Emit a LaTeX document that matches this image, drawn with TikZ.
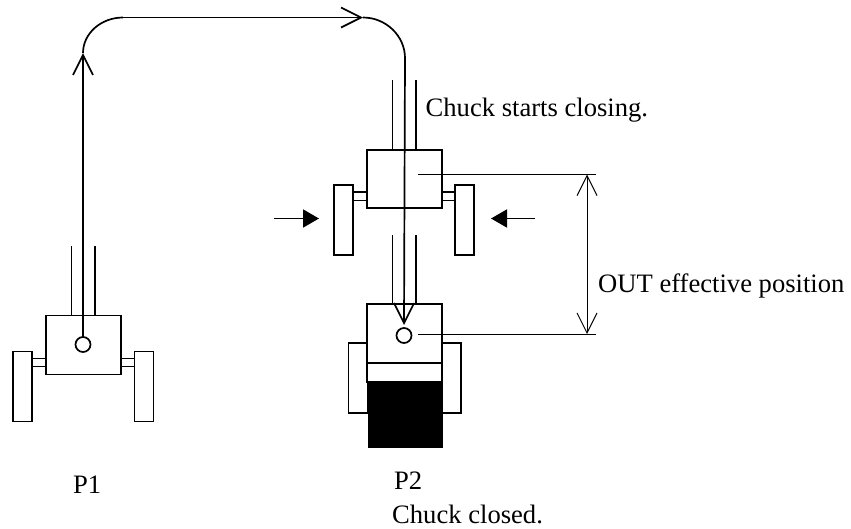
\documentclass[tikz,border=0pt]{standalone}
\usepackage{fontspec}
\setmainfont{Liberation Serif}
\usetikzlibrary{arrows.meta,positioning}
\tikzset{
  bodybox/.style  ={draw=black, fill=white, line width=1.7pt, inner sep=0pt, outer sep=0pt,
                    minimum width=75pt, minimum height=59pt},
  wheelbox/.style ={draw=black, fill=white, line width=1.7pt, inner sep=0pt, outer sep=0pt,
                    minimum width=19pt, minimum height=70pt},
  pivot/.style    ={draw=black, fill=white, circle, line width=1.7pt, inner sep=0pt, outer sep=0pt,
                    minimum size=15pt},
  rod/.style      ={line width=1.7pt},
  openarr/.style  ={-{Straight Barb[length=20pt,width=20pt,line width=1.7pt]}, line width=1.7pt},
  pusharr/.style  ={-{Triangle[length=16pt,width=18pt]}, line width=1.7pt},
  dimline/.style  ={line width=1pt},
  dimarr/.style   ={{Straight Barb[length=20pt,width=20pt,line width=1pt]}-{Straight Barb[length=20pt,width=20pt,line width=1pt]}, line width=1pt},
  lbl/.style      ={inner sep=0pt, anchor=base west, font=\fontsize{26.6}{30}\selectfont},
}
\begin{document}
\begin{tikzpicture}[x=1pt,y=-1pt]
    \useasboundingbox (0,0) rectangle (851,528);

    % Position P1
    \draw[rod] (71.5,246) -- (71.5,316);
    \draw[rod] (95,246) -- (95,316);
    \node[bodybox] (bodyA) at (83.5,345) {};
    \node[wheelbox] (wheelAl) at (22.5,386.5) {};
    \node[wheelbox] (wheelAr) at (144,386.5) {};
    \draw[rod] (wheelAl.east |- 0,358.5) -- (bodyA.west |- 0,358.5);
    \draw[rod] (wheelAl.east |- 0,366.5) -- (bodyA.west |- 0,366.5);
    \draw[rod] (bodyA.east |- 0,358.5) -- (wheelAr.west |- 0,358.5);
    \draw[rod] (bodyA.east |- 0,366.5) -- (wheelAr.west |- 0,366.5);
    \node[pivot] (pivotA) at (83,344.5) {};

    % Transfer path
    \coordinate (bendA) at (83,53);
    \coordinate (topA) at (123,17.5);
    \coordinate (topB) at (363,17.5);
    \coordinate (bendB) at (405,58);
    \draw[openarr] (pivotA.north) -- (bendA);
    \draw[rod] (bendA) .. controls (83,33.5) and (101,17.5) .. (topA);
    \draw[openarr] (topA) -- (topB);
    \draw[rod] (topB) .. controls (386,17.5) and (405,36) .. (bendB);

    % Position where the chuck starts closing
    \draw[rod] (392.5,80) -- (392.5,150);
    \draw[rod] (416,80) -- (416,150);
    \node[bodybox,minimum height=58pt] (bodyB) at (404.5,179) {};
    \node[wheelbox] (wheelBl) at (343.5,220) {};
    \node[wheelbox] (wheelBr) at (464.5,220) {};
    \draw[rod] (wheelBl.east |- 0,192) -- (bodyB.west |- 0,192);
    \draw[rod] (wheelBl.east |- 0,200.5) -- (bodyB.west |- 0,200.5);
    \draw[rod] (bodyB.east |- 0,192) -- (wheelBr.west |- 0,192);
    \draw[rod] (bodyB.east |- 0,200.5) -- (wheelBr.west |- 0,200.5);
    \coordinate (pushL) at (274,218.5);
    \coordinate (pushLt) at (319,218.5);
    \coordinate (pushR) at (535,218.5);
    \coordinate (pushRt) at (491,218.5);
    \draw[pusharr] (pushL) -- (pushLt);
    \draw[pusharr] (pushR) -- (pushRt);

    % Position P2
    \draw[rod] (392.5,235) -- (392.5,304);
    \draw[rod] (416,235) -- (416,304);
    \node[wheelbox] (wheelCl) at (358,378) {};
    \node[wheelbox] (wheelCr) at (451.5,378) {};
    \node[bodybox,minimum height=78pt] (bodyC) at (404.5,343) {};
    \draw[rod] (bodyC.west |- 0,363) -- (bodyC.east |- 0,363);
    \node[draw=none,fill=black,inner sep=0pt,minimum width=75pt,minimum height=66pt] (blockC) at (405.5,415) {};
    \node[pivot] (pivotC) at (404,335.5) {};
    \coordinate (tipC) at (404,325);
    \draw[openarr] (bendB) -- (tipC);

    % OUT effective position
    \coordinate (dimAs) at (418,174.5);
    \coordinate (dimAe) at (596,174.5);
    \coordinate (dimBs) at (418,334);
    \coordinate (dimBe) at (596,334);
    \coordinate (dimT) at (587,174.5);
    \coordinate (dimB) at (587,334);
    \draw[dimline] (dimAs) -- (dimAe);
    \draw[dimline] (dimBs) -- (dimBe);
    \draw[dimarr] (dimT) -- (dimB);

    % Labels
    \node[lbl] (closing) at (425.5,116) {Chuck starts closing.};
    \node[lbl] (outpos) at (598,292) {OUT effective position};
    \node[lbl] (labelA) at (73,493) {P1};
    \node[lbl] (labelB) at (394,489) {P2};
    \node[lbl] (closed) at (392,523) {Chuck closed.};
\end{tikzpicture}
\end{document}
